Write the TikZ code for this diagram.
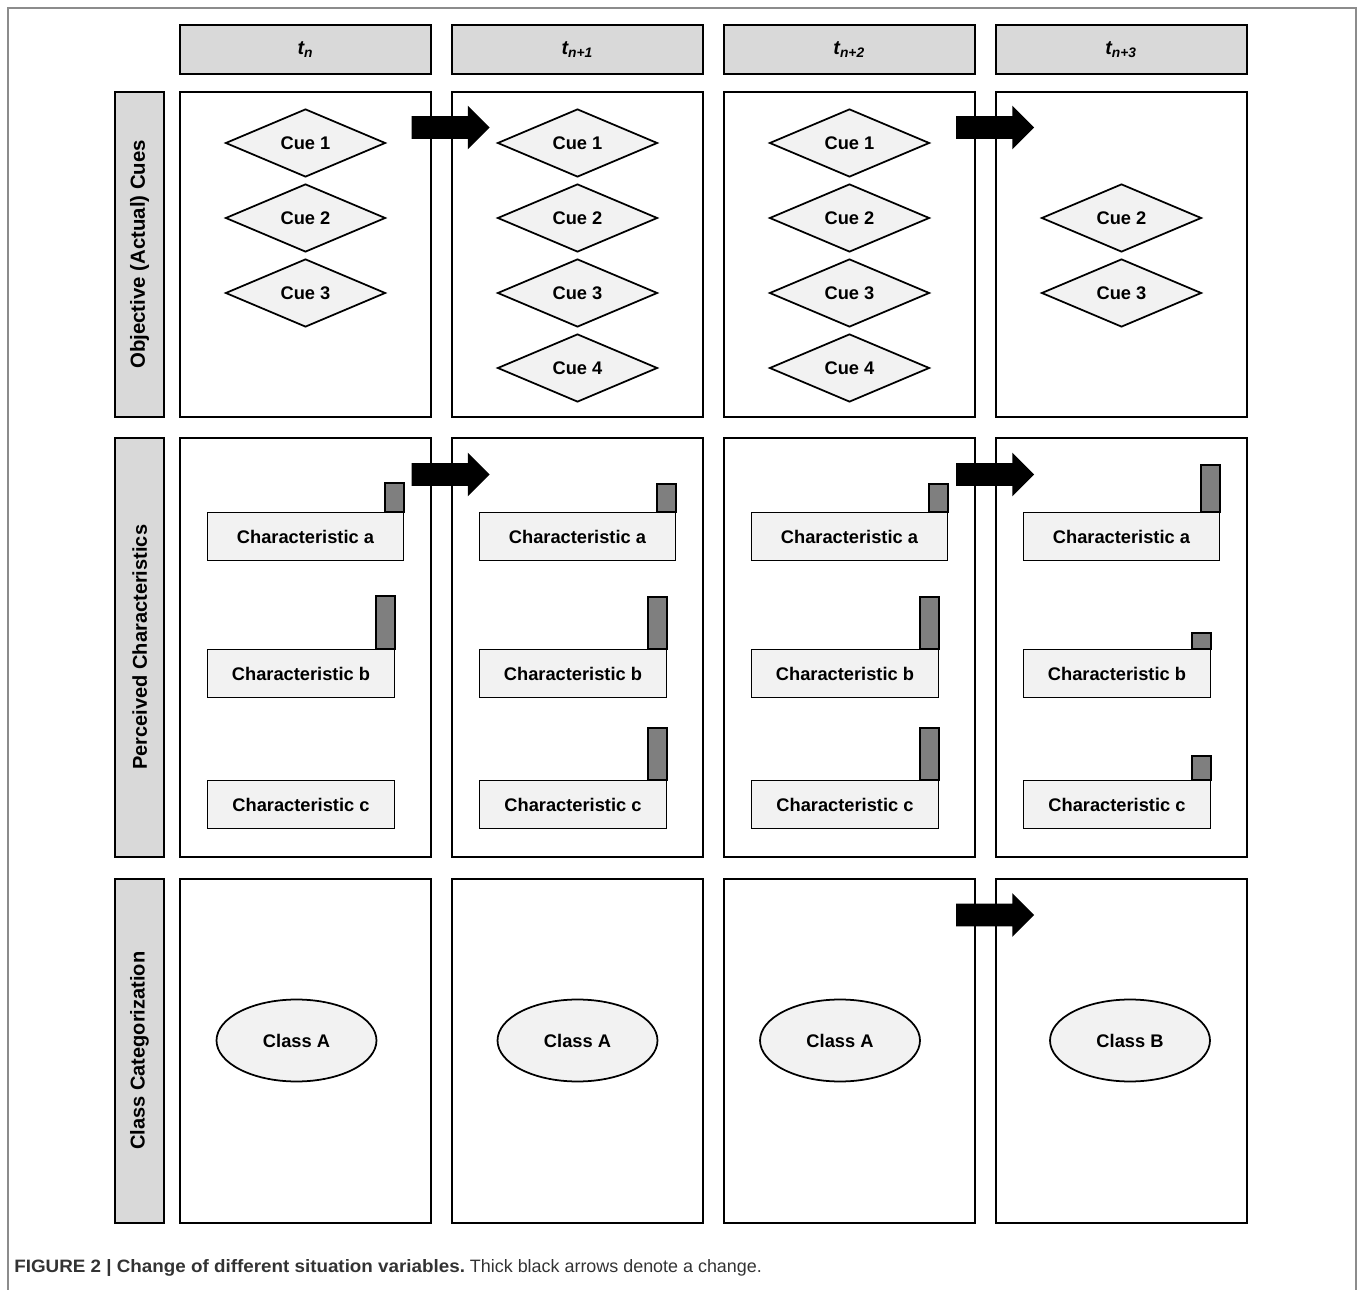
\documentclass[tikz,border=0pt]{standalone}
\usepackage{fontspec}
\setmainfont{Liberation Sans}
\usetikzlibrary{positioning, shapes.geometric, shapes.arrows}
\definecolor{hdgray}{HTML}{D9D9D9}
\definecolor{lightfill}{HTML}{F2F2F2}
\definecolor{bargray}{HTML}{7F7F7F}
\definecolor{framegray}{HTML}{8C8C8C}
\definecolor{captext}{HTML}{333333}
\tikzset{
    hdbox/.style={draw, line width=1.1pt, fill=hdgray, minimum width=5.02cm, minimum height=0.98cm, font=\fontsize{11.2}{12}\selectfont\bfseries\itshape},
    cellbox/.style={draw, line width=1.1pt, minimum width=5.02cm},
    rowlabel/.style={draw, line width=1.1pt, fill=hdgray, minimum width=0.98cm},
    cue/.style={diamond, draw, line width=1pt, fill=lightfill, shape aspect=2.35, minimum width=3.2cm, minimum height=1.36cm, inner sep=0pt, font=\fontsize{10.4}{12}\selectfont\bfseries},
    chrbox/.style={draw, line width=1pt, fill=lightfill, minimum height=0.96cm, inner sep=0pt, font=\fontsize{10.4}{12}\selectfont\bfseries},
    bar/.style={draw, line width=1pt, fill=bargray},
    cls/.style={ellipse, draw, line width=1pt, fill=lightfill, minimum width=3.2cm, minimum height=1.64cm, font=\fontsize{10.4}{12}\selectfont\bfseries},
    chg/.style={single arrow, fill=black, draw=none, minimum height=1.56cm, minimum width=0.86cm, single arrow head extend=0.21cm, inner xsep=0pt, inner ysep=0.22cm}
}
\begin{document}
\begin{tikzpicture}[x=0.02cm, y=-0.02cm]
        \useasboundingbox (0,0) rectangle (1360,1290);
        \draw [framegray, line width=0.85pt] (8,1290) -- (8,8) -- (1356,8) -- (1356,1290);
        % time steps
        \node (hd1) [hdbox] at (305.5,49.5) {t\textsubscript{n}};
        \node (hd2) [hdbox, right=0.38cm of hd1] {t\textsubscript{n+1}};
        \node (hd3) [hdbox, right=0.38cm of hd2] {t\textsubscript{n+2}};
        \node (hd4) [hdbox, right=0.38cm of hd3] {t\textsubscript{n+3}};
        % cells
        \node (c11) [cellbox, minimum height=6.50cm, below=0.32cm of hd1] {};
        \node (c12) [cellbox, minimum height=6.50cm, below=0.32cm of hd2] {};
        \node (c13) [cellbox, minimum height=6.50cm, below=0.32cm of hd3] {};
        \node (c14) [cellbox, minimum height=6.50cm, below=0.32cm of hd4] {};
        \node (c21) [cellbox, minimum height=8.38cm, below=0.38cm of c11] {};
        \node (c22) [cellbox, minimum height=8.38cm, below=0.38cm of c12] {};
        \node (c23) [cellbox, minimum height=8.38cm, below=0.38cm of c13] {};
        \node (c24) [cellbox, minimum height=8.38cm, below=0.38cm of c14] {};
        \node (c31) [cellbox, minimum height=6.88cm, below=0.40cm of c21] {};
        \node (c32) [cellbox, minimum height=6.88cm, below=0.40cm of c22] {};
        \node (c33) [cellbox, minimum height=6.88cm, below=0.40cm of c23] {};
        \node (c34) [cellbox, minimum height=6.88cm, below=0.40cm of c24] {};
        % row labels
        \node (lb1) [rowlabel, minimum height=6.50cm, left=0.28cm of c11, label={[rotate=90, font=\fontsize{11.6}{12}\selectfont\bfseries]center:Objective (Actual) Cues}] {};
        \node (lb2) [rowlabel, minimum height=8.38cm, left=0.28cm of c21, label={[rotate=90, font=\fontsize{11.4}{12}\selectfont\bfseries]center:Perceived Characteristics}] {};
        \node (lb3) [rowlabel, minimum height=6.88cm, left=0.28cm of c31, label={[rotate=90, font=\fontsize{11.4}{12}\selectfont\bfseries]center:Class Categorization}] {};
        % cues
        \node (q11) [cue] at (305.5,143) {Cue 1};
        \node (q12) [cue] at (305.5,218) {Cue 2};
        \node (q13) [cue] at (305.5,293) {Cue 3};
        \node (q21) [cue] at (577.5,143) {Cue 1};
        \node (q22) [cue] at (577.5,218) {Cue 2};
        \node (q23) [cue] at (577.5,293) {Cue 3};
        \node (q24) [cue] at (577.5,368) {Cue 4};
        \node (q31) [cue] at (849.5,143) {Cue 1};
        \node (q32) [cue] at (849.5,218) {Cue 2};
        \node (q33) [cue] at (849.5,293) {Cue 3};
        \node (q34) [cue] at (849.5,368) {Cue 4};
        \node (q42) [cue] at (1121.5,218) {Cue 2};
        \node (q43) [cue] at (1121.5,293) {Cue 3};
        % perceived characteristics
        \node (ch1a) [chrbox, minimum width=3.92cm] at (305.5,536.5) {Characteristic a};
        \node (ch1b) [chrbox, minimum width=3.74cm] at (301,673.5) {Characteristic b};
        \node (ch1c) [chrbox, minimum width=3.74cm] at (301,804.5) {Characteristic c};
        \node (ch2a) [chrbox, minimum width=3.92cm] at (577.5,536.5) {Characteristic a};
        \node (ch2b) [chrbox, minimum width=3.74cm] at (573,673.5) {Characteristic b};
        \node (ch2c) [chrbox, minimum width=3.74cm] at (573,804.5) {Characteristic c};
        \node (ch3a) [chrbox, minimum width=3.92cm] at (849.5,536.5) {Characteristic a};
        \node (ch3b) [chrbox, minimum width=3.74cm] at (845,673.5) {Characteristic b};
        \node (ch3c) [chrbox, minimum width=3.74cm] at (845,804.5) {Characteristic c};
        \node (ch4a) [chrbox, minimum width=3.92cm] at (1121.5,536.5) {Characteristic a};
        \node (ch4b) [chrbox, minimum width=3.74cm] at (1117,673.5) {Characteristic b};
        \node (ch4c) [chrbox, minimum width=3.74cm] at (1117,804.5) {Characteristic c};
        \draw [bar] (ch1a.north east) rectangle ++(-19,-29);
        \draw [bar] (ch1b.north east) rectangle ++(-19,-53);
        \draw [bar] (ch2a.north east) rectangle ++(-19,-28);
        \draw [bar] (ch2b.north east) rectangle ++(-19,-52);
        \draw [bar] (ch2c.north east) rectangle ++(-19,-52);
        \draw [bar] (ch3a.north east) rectangle ++(-19,-28);
        \draw [bar] (ch3b.north east) rectangle ++(-19,-52);
        \draw [bar] (ch3c.north east) rectangle ++(-19,-52);
        \draw [bar] (ch4a.north east) rectangle ++(-19,-47);
        \draw [bar] (ch4b.north east) rectangle ++(-19,-16);
        \draw [bar] (ch4c.north east) rectangle ++(-19,-24);
        % classes
        \node (k1) [cls] at (296.5,1040.5) {Class A};
        \node (k2) [cls] at (577.5,1040.5) {Class A};
        \node (k3) [cls] at (840,1040.5) {Class A};
        \node (k4) [cls] at (1130,1040.5) {Class B};
        % changes
        \node (chg1) [chg] at (445,127.5) {};
        \node (chg2) [chg] at (989.5,127.5) {};
        \node (chg3) [chg] at (445,474.5) {};
        \node (chg4) [chg] at (989.5,474.5) {};
        \node (chg5) [chg] at (989.5,915) {};
        % caption
        \node (cap) [anchor=west, inner sep=0pt, font=\fontsize{10.2}{12}\selectfont, text=captext] at (14,1268) {\scalebox{1.05}[1]{\bfseries FIGURE 2 | Change of different situation variables.} Thick black arrows denote a change.};
    \end{tikzpicture}
\end{document}
